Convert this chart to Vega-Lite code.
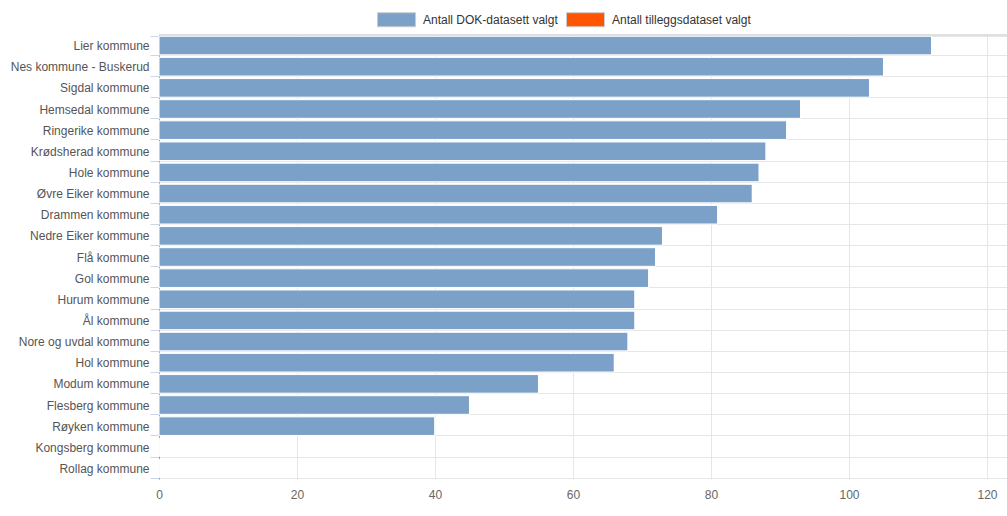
{
  "$schema": "https://vega.github.io/schema/vega-lite/v6.json",
  "width": 848,
  "height": 444,
  "autosize": {"type": "none"},
  "padding": {"left": 159, "top": 35, "right": 0, "bottom": 37},
  "background": "#ffffff",
  "config": {
    "view": {"stroke": null},
    "font": "Liberation Sans",
    "axis": {"labelFont": "Liberation Sans", "labelFontSize": 12}
  },
  "data": {
    "values": [
      {"kommune": "Lier kommune", "serie": "Antall DOK-datasett valgt", "antall": 112},
      {"kommune": "Nes kommune - Buskerud", "serie": "Antall DOK-datasett valgt", "antall": 105},
      {"kommune": "Sigdal kommune", "serie": "Antall DOK-datasett valgt", "antall": 103},
      {"kommune": "Hemsedal kommune", "serie": "Antall DOK-datasett valgt", "antall": 93},
      {"kommune": "Ringerike kommune", "serie": "Antall DOK-datasett valgt", "antall": 91},
      {"kommune": "Krødsherad kommune", "serie": "Antall DOK-datasett valgt", "antall": 88},
      {"kommune": "Hole kommune", "serie": "Antall DOK-datasett valgt", "antall": 87},
      {"kommune": "Øvre Eiker kommune", "serie": "Antall DOK-datasett valgt", "antall": 86},
      {"kommune": "Drammen kommune", "serie": "Antall DOK-datasett valgt", "antall": 81},
      {"kommune": "Nedre Eiker kommune", "serie": "Antall DOK-datasett valgt", "antall": 73},
      {"kommune": "Flå kommune", "serie": "Antall DOK-datasett valgt", "antall": 72},
      {"kommune": "Gol kommune", "serie": "Antall DOK-datasett valgt", "antall": 71},
      {"kommune": "Hurum kommune", "serie": "Antall DOK-datasett valgt", "antall": 69},
      {"kommune": "Ål kommune", "serie": "Antall DOK-datasett valgt", "antall": 69},
      {"kommune": "Nore og uvdal kommune", "serie": "Antall DOK-datasett valgt", "antall": 68},
      {"kommune": "Hol kommune", "serie": "Antall DOK-datasett valgt", "antall": 66},
      {"kommune": "Modum kommune", "serie": "Antall DOK-datasett valgt", "antall": 55},
      {"kommune": "Flesberg kommune", "serie": "Antall DOK-datasett valgt", "antall": 45},
      {"kommune": "Røyken kommune", "serie": "Antall DOK-datasett valgt", "antall": 40},
      {"kommune": "Kongsberg kommune", "serie": "Antall DOK-datasett valgt", "antall": 0},
      {"kommune": "Rollag kommune", "serie": "Antall DOK-datasett valgt", "antall": 0},
      {"kommune": "Lier kommune", "serie": "Antall tilleggsdataset valgt", "antall": 0},
      {"kommune": "Nes kommune - Buskerud", "serie": "Antall tilleggsdataset valgt", "antall": 0},
      {"kommune": "Sigdal kommune", "serie": "Antall tilleggsdataset valgt", "antall": 0},
      {"kommune": "Hemsedal kommune", "serie": "Antall tilleggsdataset valgt", "antall": 0},
      {"kommune": "Ringerike kommune", "serie": "Antall tilleggsdataset valgt", "antall": 0},
      {"kommune": "Krødsherad kommune", "serie": "Antall tilleggsdataset valgt", "antall": 0},
      {"kommune": "Hole kommune", "serie": "Antall tilleggsdataset valgt", "antall": 0},
      {"kommune": "Øvre Eiker kommune", "serie": "Antall tilleggsdataset valgt", "antall": 0},
      {"kommune": "Drammen kommune", "serie": "Antall tilleggsdataset valgt", "antall": 0},
      {"kommune": "Nedre Eiker kommune", "serie": "Antall tilleggsdataset valgt", "antall": 0},
      {"kommune": "Flå kommune", "serie": "Antall tilleggsdataset valgt", "antall": 0},
      {"kommune": "Gol kommune", "serie": "Antall tilleggsdataset valgt", "antall": 0},
      {"kommune": "Hurum kommune", "serie": "Antall tilleggsdataset valgt", "antall": 0},
      {"kommune": "Ål kommune", "serie": "Antall tilleggsdataset valgt", "antall": 0},
      {"kommune": "Nore og uvdal kommune", "serie": "Antall tilleggsdataset valgt", "antall": 0},
      {"kommune": "Hol kommune", "serie": "Antall tilleggsdataset valgt", "antall": 0},
      {"kommune": "Modum kommune", "serie": "Antall tilleggsdataset valgt", "antall": 0},
      {"kommune": "Flesberg kommune", "serie": "Antall tilleggsdataset valgt", "antall": 0},
      {"kommune": "Røyken kommune", "serie": "Antall tilleggsdataset valgt", "antall": 0},
      {"kommune": "Kongsberg kommune", "serie": "Antall tilleggsdataset valgt", "antall": 0},
      {"kommune": "Rollag kommune", "serie": "Antall tilleggsdataset valgt", "antall": 0}
    ]
  },
  "layer": [
    {
      "mark": {"type": "bar", "stroke": "#ffffff", "strokeWidth": 1},
      "encoding": {
        "y": {
          "field": "kommune",
          "type": "nominal",
          "sort": null,
          "scale": {"paddingInner": 0.12, "paddingOuter": 0.06},
          "axis": {
            "title": null,
            "tickBand": "extent",
            "grid": true,
            "gridColor": "#e6e6e6",
            "tickColor": "#ccd6eb",
            "tickSize": 9,
            "labelPadding": 1,
            "labelColor": "#555555",
            "labelFontSize": 12,
            "domainColor": "#a0a0a0",
            "labelLimit": 200
          }
        },
        "x": {
          "field": "antall",
          "type": "quantitative",
          "stack": "zero",
          "scale": {"domain": [0, 122.9], "nice": false, "zero": true},
          "axis": {
            "title": null,
            "values": [0, 20, 40, 60, 80, 100, 120],
            "grid": true,
            "gridColor": "#e6e6e6",
            "ticks": false,
            "domain": false,
            "labelFlush": false,
            "labelColor": "#666666",
            "labelFontSize": 12,
            "labelPadding": 10
          }
        },
        "color": {
          "field": "serie",
          "type": "nominal",
          "scale": {
            "domain": ["Antall DOK-datasett valgt", "Antall tilleggsdataset valgt"],
            "range": ["#7ca1c8", "#ff5500"]
          },
          "legend": {
            "title": null,
            "orient": "none",
            "direction": "horizontal",
            "legendX": 218,
            "legendY": -35,
            "symbolType": "M-1,-0.37H1V0.37H-1Z",
            "symbolSize": 1444,
            "symbolStrokeColor": "#cccccc",
            "symbolStrokeWidth": 1,
            "symbolOpacity": 1,
            "labelFontSize": 12,
            "labelColor": "#333333",
            "labelOffset": 7,
            "columnPadding": 6,
            "labelLimit": 300
          }
        }
      }
    },
    {
      "mark": {"type": "rule", "color": "#c0c0c0", "strokeWidth": 1},
      "data": {"values": [{"v": 0}]},
      "encoding": {
        "y": {"value": 0},
        "x": {"value": 0},
        "x2": {"value": 848}
      }
    }
  ]
}
